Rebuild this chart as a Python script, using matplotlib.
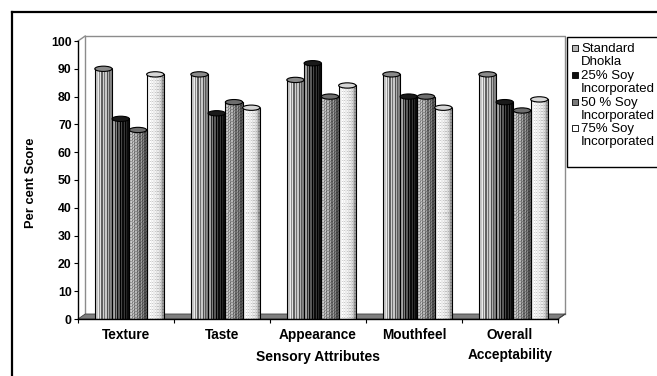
import numpy as np
import matplotlib.pyplot as plt
from matplotlib.patches import Ellipse, Rectangle, Polygon
from matplotlib.lines import Line2D

plt.rcParams['font.family'] = ['Liberation Sans', 'DejaVu Sans']

# sensory scores (per cent)
attributes = ["Texture", "Taste", "Appearance", "Mouthfeel", "Overall\nAcceptability"]
series_labels = ["Standard\nDhokla", "25% Soy\nIncorporated", "50 % Soy\nIncorporated", "75% Soy\nIncorporated"]
standard = [90, 88, 86, 88, 88]
soy_25 = [72, 74, 92, 80, 78]
soy_50 = [68, 78, 80, 80, 75]
soy_75 = [88, 76, 84, 76, 79]
y_ticks = list(range(0, 101, 10))

series = [standard, soy_25, soy_50, soy_75]

# column shading for the "cylinder" look of each series
profiles = [
    [0.45, 0.78, 0.92, 0.55, 0.88, 0.38, 0.82, 0.45, 0.78, 0.32, 0.68, 0.35, 0.52, 0.25],
    [0.40, 0.65, 0.18, 0.50, 0.06, 0.35, 0.00, 0.28, 0.05, 0.22, 0.00, 0.15, 0.05, 0.10],
    [0.50, 0.80, 0.62, 0.78, 0.52, 0.72, 0.48, 0.66, 0.42, 0.62, 0.38, 0.52, 0.32, 0.42],
    [0.72, 0.95, 1.00, 0.93, 0.98, 0.92, 0.96, 0.88, 0.92, 0.84, 0.86, 0.74, 0.62, 0.50],
]
kinds = ["plain", "plain", "hatch", "dots"]
cap_colors = ["#8a8a8a", "#1a1a1a", "#6e6e6e", "#d6d6d6"]
legend_colors = ["#b8b8b8", "#101010", "#7a7a7a", "#ffffff"]


def texture(profile, kind, rows):
    img = np.tile(np.array(profile, dtype=float), (rows, 1))
    r, c = np.mgrid[0:rows, 0:len(profile)]
    if kind == "hatch":
        img = np.where((r + c) % 3 == 0, img * 0.75, img)
    elif kind == "dots":
        img = np.where((r % 3 == 0) & (c % 2 == 0), img * 0.82, img)
    return np.clip(img, 0, 1)


fig = plt.figure(figsize=(6.57, 3.76), dpi=100)
ax = fig.add_axes([78 / 657, 1 - 319 / 376, 480 / 657, 278 / 376])

# 3-D frame: floor and back wall, shifted back a little
ox, oy = 0.075, 1.8
n = len(attributes)
ax.add_patch(Polygon([(0, 0), (n, 0), (n + ox, oy), (ox, oy)], closed=True,
                     facecolor="#7f7f7f", edgecolor="#404040", lw=0.6, zorder=1, clip_on=False))
wall = dict(color="#8c8c8c", lw=1.0, zorder=0.5, clip_on=False)
ax.plot([ox, ox, n + ox, n + ox], [oy, 100 + oy, 100 + oy, oy], **wall)
ax.plot([0, ox], [100, 100 + oy], **wall)
ax.plot([n, n + ox], [0, oy], color="#404040", lw=0.8, zorder=1, clip_on=False)

# bars
width = 0.18
shift = 0.035
x = np.arange(n) + 0.5
for j, vals in enumerate(series):
    pos = x + (j - 1.5) * width + shift
    bars = ax.bar(pos, vals, width=width, facecolor="none", edgecolor="black",
                  lw=0.8, zorder=4)
    for rect in bars:
        x0, w, h = rect.get_x(), rect.get_width(), rect.get_height()
        img = texture(profiles[j], kinds[j], int(h * 2.78))
        ax.imshow(img, cmap="gray", vmin=0, vmax=1, extent=(x0, x0 + w, 0, h),
                  aspect="auto", interpolation="nearest", zorder=3)
        ax.add_patch(Ellipse((x0 + w / 2, h), w, 1.9, facecolor=cap_colors[j],
                             edgecolor="black", lw=0.8, zorder=5))

ax.set_xlim(0, n)
ax.set_ylim(0, 100)

for s in ["top", "right"]:
    ax.spines[s].set_visible(False)
for s in ["left", "bottom"]:
    ax.spines[s].set_color("black")
    ax.spines[s].set_linewidth(1.0)
    ax.spines[s].set_zorder(6)

ax.set_yticks(y_ticks)
ax.set_yticklabels([str(t) for t in y_ticks], fontsize=8.8, fontweight="bold")
ax.tick_params(axis="y", length=3, width=0.8, pad=1.5)
ax.set_xticks(range(n + 1))
ax.set_xticklabels([])
ax.tick_params(axis="x", which="major", length=3, width=0.8)
ax.set_xticks(x, minor=True)
ax.set_xticklabels(attributes, minor=True, fontsize=9.8, fontweight="bold")
ax.tick_params(axis="x", which="minor", length=0, pad=6.5)
for lbl in ax.get_xticklabels(minor=True):
    lbl.set_linespacing(1.55)

fig.text(318 / 657, 1 - 357 / 376, "Sensory Attributes", ha="center", va="center",
         fontsize=10, fontweight="bold")
fig.text(31 / 657, 1 - 183 / 376, "Per cent Score", ha="center", va="center",
         rotation=90, fontsize=9.3, fontweight="bold")

# legend box
fig.add_artist(Rectangle((567 / 657, 1 - 167 / 376), 100 / 657, 130 / 376,
                         transform=fig.transFigure, facecolor="white",
                         edgecolor="black", lw=1.0))
first_lines = [48, 75, 102, 128]
for j, (lab, yy) in enumerate(zip(series_labels, first_lines)):
    fig.add_artist(Rectangle((572 / 657, 1 - (yy + 3) / 376), 6 / 657, 6 / 376,
                             transform=fig.transFigure, facecolor=legend_colors[j],
                             edgecolor="black", lw=0.6, hatch="||" if j in (0, 2) else None))
    fig.text(581 / 657, 1 - (yy - 5) / 376, lab, ha="left", va="top",
             fontsize=9.5, linespacing=1.08)

# outer frame
fig.add_artist(Line2D([12 / 657, 12 / 657], [0, 1 - 12 / 376], color="black", lw=1.6,
                      transform=fig.transFigure))
fig.add_artist(Line2D([12 / 657, 1], [1 - 12 / 376, 1 - 12 / 376], color="black", lw=1.6,
                      transform=fig.transFigure))

fig.savefig("out.png", dpi=100)
